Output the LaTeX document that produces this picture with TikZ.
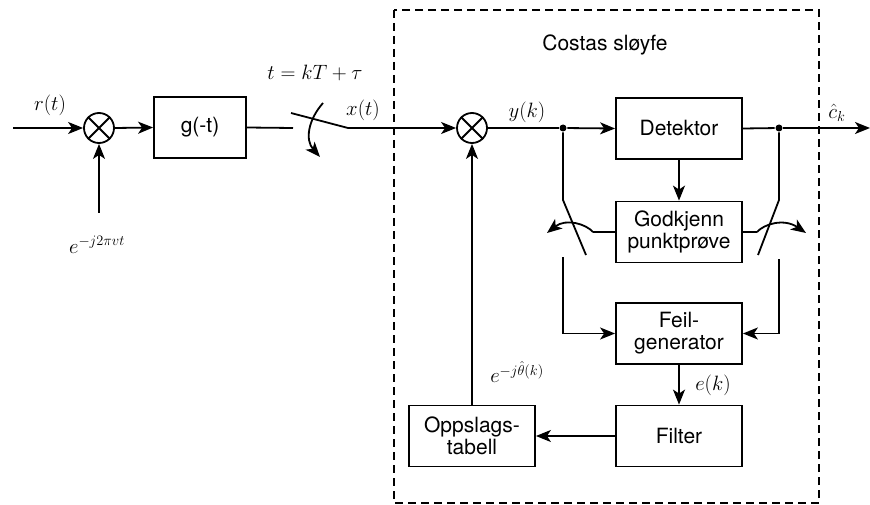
\documentclass[tikz,border=0pt]{standalone}
\usepackage[no-math]{fontspec}
\setmainfont{TeX Gyre Heros}
\usetikzlibrary{arrows.meta}
\begin{document}
\begin{tikzpicture}[x=1pt,y=-1pt,
  line width=1.8pt,
  every node/.style={font=\fontsize{20}{22}\selectfont},
  >={Stealth[length=15pt,width=12pt,inset=4pt]},
  blk/.style={draw,minimum width=126pt,minimum height=61pt,inner sep=0pt,align=center,font=\fontsize{21}{22}\selectfont},
  mix/.style={draw,circle,minimum size=30pt,inner sep=0pt},
  dot/.style={circle,fill,inner sep=0pt,minimum size=7pt},
  lbl/.style={inner sep=0pt}]
\useasboundingbox (0,0) rectangle (870,505);

% dashed loop frame
\draw[line width=1.4pt,dash pattern=on 8pt off 5pt] (394,10) rectangle (819,503);
\node[lbl,font=\fontsize{21}{22}\selectfont] (title) at (605,45) {Costas sløyfe};

% mixers
\node[mix] (m1) at (99,128) {};
\draw (m1.north west) -- (m1.south east) (m1.north east) -- (m1.south west);
\node[mix] (m2) at (472,128) {};
\draw (m2.north west) -- (m2.south east) (m2.north east) -- (m2.south west);

% blocks
\node[blk,minimum width=92pt] (g) at (200,127.5) {g(-t)};
\node[blk] (det) at (679,128.5) {Detektor};
\node[blk] (god) at (679,232) {Godkjenn\\punktprøve};
\node[blk] (feil) at (679,333.5) {Feil-\\generator};
\node[blk] (filt) at (679,436) {Filter};
\node[blk] (opp) at (472,436) {Oppslags-\\tabell};

% coordinates
\coordinate (in) at (13,128);
\coordinate (osc) at (99,213);
\coordinate (sw1a) at (293,128);
\coordinate (sw1b) at (348,128);
\coordinate (sw1t) at (291,113);
\node[dot] (d1) at (563,128) {};
\node[dot] (d2) at (779,128) {};
\coordinate (out) at (870,128);
\coordinate (lp) at (563,200);
\coordinate (lt) at (586,255);
\coordinate (lc) at (563,257);
\coordinate (rp) at (779,200);
\coordinate (rt) at (758,255);
\coordinate (rc) at (779,259);
\coordinate (gl) at (593,232);
\coordinate (gr) at (757,232);

% front end
\draw[->] (in) -- (m1.west);
\node[lbl] (rt-l) at (50,105) {$r(t)$};
\draw[->] (osc) -- (m1.south);
\node[lbl] (osc-l) at (97,245) {$e^{-j2\pi vt}$};
\draw[->] (m1.east) -- (g.west);
\draw (g.east) -- (sw1a);
\draw (sw1t) -- (sw1b);
\draw[->] (323,103) .. controls (308,120) and (305,140) .. (320,157);
\node[lbl] (samp) at (315,73) {$t=kT+\tau$};
\draw[->] (sw1b) -- (m2.west);
\node[lbl] (xt) at (363,110) {$x(t)$};

% loop
\draw (m2.east) -- (d1);
\node[lbl] (yk) at (527,112) {$y(k)$};
\draw[->] (d1) -- (det.west);
\draw (det.east) -- (d2);
\draw[->] (d2) -- (out);
\node[lbl] (ck) at (837,113) {$\hat{c}_k$};
\draw[->] (det.south) -- (god.north);

% left switch
\draw (d1) -- (lp) -- (lt);
\draw[->] (lc) |- (feil.west);
\draw (god.west) -- (gl);
\draw[->] (gl) .. controls (586,224) and (566,218) .. (547,233);

% right switch
\draw (d2) -- (rp) -- (rt);
\draw[->] (rc) |- (feil.east);
\draw (god.east) -- (gr);
\draw[->] (gr) .. controls (764,224) and (784,218) .. (806,233);

\draw[->] (feil.south) -- (filt.north);
\node[lbl] (ek) at (713,385) {$e(k)$};
\draw[->] (filt.west) -- (opp.east);
\draw[->] (opp.north) -- (m2.south);
\node[lbl] (th) at (517,372) {$e^{-j\hat{\theta}(k)}$};
\end{tikzpicture}
\end{document}
